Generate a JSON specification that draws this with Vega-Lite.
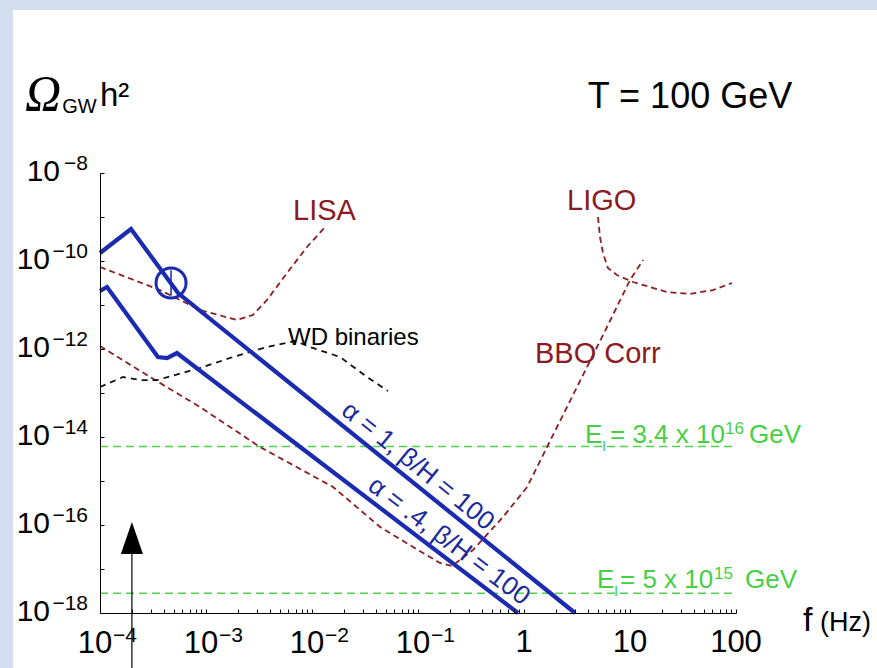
{
  "$schema": "https://vega.github.io/schema/vega-lite/v6.json",
  "width": 636,
  "height": 440,
  "autosize": {"type": "none"},
  "padding": {"left": 100, "top": 173, "right": 141, "bottom": 55},
  "background": "#d3dff0",
  "config": {"view": {"stroke": null}, "font": "Liberation Sans"},
  "datasets": {
    "curves": [
      {"s": "alpha1", "f": 0.0001, "o": 1.52e-10},
      {"s": "alpha1", "f": 0.000196, "o": 5.33e-10},
      {"s": "alpha1", "f": 0.000545, "o": 1.87e-11},
      {"s": "alpha1", "f": 3.03, "o": 1e-18},
      {"s": "alpha04", "f": 0.0001, "o": 2.08e-11},
      {"s": "alpha04", "f": 0.0001164, "o": 2.56e-11},
      {"s": "alpha04", "f": 0.000352, "o": 6.58e-13},
      {"s": "alpha04", "f": 0.000429, "o": 6.24e-13},
      {"s": "alpha04", "f": 0.000532, "o": 8.11e-13},
      {"s": "alpha04", "f": 0.877, "o": 1e-18},
      {"s": "LISA", "f": 0.0001, "o": 7.31e-11},
      {"s": "LISA", "f": 0.000368, "o": 2.19e-11},
      {"s": "LISA", "f": 0.000877, "o": 7.69e-12},
      {"s": "LISA", "f": 0.00196, "o": 4.56e-12},
      {"s": "LISA", "f": 0.00277, "o": 5.93e-12},
      {"s": "LISA", "f": 0.00376, "o": 1.3e-11},
      {"s": "LISA", "f": 0.00581, "o": 5.33e-11},
      {"s": "LISA", "f": 0.00897, "o": 2.08e-10},
      {"s": "LISA", "f": 0.0133, "o": 5.93e-10},
      {"s": "BBO", "f": 0.0001, "o": 1.17e-12},
      {"s": "BBO", "f": 0.00033, "o": 1.97e-13},
      {"s": "BBO", "f": 0.000877, "o": 4.81e-14},
      {"s": "BBO", "f": 0.00323, "o": 5.93e-15},
      {"s": "BBO", "f": 0.0158, "o": 7.31e-16},
      {"s": "BBO", "f": 0.0439, "o": 9.02e-17},
      {"s": "BBO", "f": 0.0897, "o": 3.16e-17},
      {"s": "BBO", "f": 0.161, "o": 1.37e-17},
      {"s": "BBO", "f": 0.209, "o": 1.17e-17},
      {"s": "BBO", "f": 0.33, "o": 2.7e-17},
      {"s": "BBO", "f": 0.634, "o": 1.52e-16},
      {"s": "BBO", "f": 1.07, "o": 7.31e-16},
      {"s": "BBO", "f": 1.65, "o": 5.93e-15},
      {"s": "BBO", "f": 3.93, "o": 3.9e-13},
      {"s": "BBO", "f": 6.07, "o": 3.16e-12},
      {"s": "BBO", "f": 10.0, "o": 3.7e-11},
      {"s": "BBO", "f": 13.3, "o": 1.05e-10},
      {"s": "LIGO", "f": 4.99, "o": 1e-9},
      {"s": "LIGO", "f": 5.21, "o": 3.51e-10},
      {"s": "LIGO", "f": 5.56, "o": 1.52e-10},
      {"s": "LIGO", "f": 6.19, "o": 6.93e-11},
      {"s": "LIGO", "f": 7.53, "o": 4.81e-11},
      {"s": "LIGO", "f": 10.67, "o": 3.33e-11},
      {"s": "LIGO", "f": 22.3, "o": 1.97e-11},
      {"s": "LIGO", "f": 36.8, "o": 1.78e-11},
      {"s": "LIGO", "f": 60.7, "o": 2.19e-11},
      {"s": "LIGO", "f": 91.6, "o": 3.16e-11},
      {"s": "WD", "f": 0.0001, "o": 1.37e-13},
      {"s": "WD", "f": 0.000165, "o": 2.31e-13},
      {"s": "WD", "f": 0.000238, "o": 1.97e-13},
      {"s": "WD", "f": 0.000345, "o": 1.97e-13},
      {"s": "WD", "f": 0.000877, "o": 3.7e-13},
      {"s": "WD", "f": 0.0018, "o": 6.58e-13},
      {"s": "WD", "f": 0.00376, "o": 1.11e-12},
      {"s": "WD", "f": 0.00692, "o": 1.52e-12},
      {"s": "WD", "f": 0.00957, "o": 1.11e-12},
      {"s": "WD", "f": 0.0184, "o": 6.58e-13},
      {"s": "WD", "f": 0.033, "o": 2.31e-13},
      {"s": "WD", "f": 0.0521, "o": 1.11e-13},
      {"s": "EI1", "f": 0.0001, "o": 6.08e-15},
      {"s": "EI1", "f": 97.9, "o": 6.08e-15},
      {"s": "EI2", "f": 0.0001, "o": 2.81e-18},
      {"s": "EI2", "f": 97.9, "o": 2.81e-18}
    ],
    "circle": [{"f": 0.000468, "o": 3.16e-11}],
    "frame": [{"f": 1.51e-5, "f2": 10000, "o": 5.07e-5, "o2": 1e-21}],
    "arrow": [{"f": 0.0002, "o": 1e-20, "o2": 2.5e-17, "tip": 5.07e-17}],
    "ticklabels": [
      {"k": "xb", "t": "10", "f": 0.0001, "o": 1e-18},
      {"k": "xe", "t": "−4", "f": 0.0001, "o": 1e-18},
      {"k": "xb", "t": "10", "f": 0.001, "o": 1e-18},
      {"k": "xe", "t": "−3", "f": 0.001, "o": 1e-18},
      {"k": "xb", "t": "10", "f": 0.01, "o": 1e-18},
      {"k": "xe", "t": "−2", "f": 0.01, "o": 1e-18},
      {"k": "xb", "t": "10", "f": 0.1, "o": 1e-18},
      {"k": "xe", "t": "−1", "f": 0.1, "o": 1e-18},
      {"k": "xp", "t": "1", "f": 1, "o": 1e-18},
      {"k": "xp", "t": "10", "f": 10, "o": 1e-18},
      {"k": "xp", "t": "100", "f": 100, "o": 1e-18},
      {"k": "yb1", "t": "10", "f": 0.0001, "o": 1e-8},
      {"k": "ye", "t": "−8", "f": 0.0001, "o": 1e-8},
      {"k": "yb2", "t": "10", "f": 0.0001, "o": 1e-10},
      {"k": "ye", "t": "−10", "f": 0.0001, "o": 1e-10},
      {"k": "yb2", "t": "10", "f": 0.0001, "o": 1e-12},
      {"k": "ye", "t": "−12", "f": 0.0001, "o": 1e-12},
      {"k": "yb2", "t": "10", "f": 0.0001, "o": 1e-14},
      {"k": "ye", "t": "−14", "f": 0.0001, "o": 1e-14},
      {"k": "yb2", "t": "10", "f": 0.0001, "o": 1e-16},
      {"k": "ye", "t": "−16", "f": 0.0001, "o": 1e-16},
      {"k": "yb2", "t": "10", "f": 0.0001, "o": 1e-18},
      {"k": "ye", "t": "−18", "f": 0.0001, "o": 1e-18}
    ],
    "labels": [
      {"g": "omega", "t": "Ω", "f": 1.96e-5, "o": 2.7e-7},
      {"g": "gw", "t": "GW", "f": 4.4e-5, "o": 2.3e-7},
      {"g": "h2", "t": "h²", "f": 0.0001, "o": 3.33e-7},
      {"g": "T", "t": "T = 100 GeV", "f": 36.8, "o": 3.0e-7},
      {"g": "red", "t": "LISA", "f": 0.00662, "o": 8.55e-10},
      {"g": "red", "t": "LIGO", "f": 2.55, "o": 1.44e-9},
      {"g": "red", "t": "BBO Corr", "f": 1.27, "o": 4.81e-13},
      {"g": "wd", "t": "WD binaries", "f": 0.00594, "o": 1.23e-12},
      {"g": "alpha1", "t": "α = 1, β/H = 100", "f": 0.1, "o": 2.19e-15},
      {"g": "alpha2", "t": "α = .4, β/H = 100", "f": 0.196, "o": 4.33e-17},
      {"g": "emain", "t": "E", "f": 3.763, "o": 7.31e-15},
      {"g": "emain", "t": "= 3.4 x 10", "f": 6.476, "o": 7.31e-15},
      {"g": "emain", "t": "GeV", "f": 132.7, "o": 7.31e-15},
      {"g": "emain", "t": "E", "f": 4.884, "o": 3.7e-18},
      {"g": "emain", "t": "= 5 x 10", "f": 8.05, "o": 3.7e-18},
      {"g": "emain", "t": "GeV", "f": 121.6, "o": 3.7e-18},
      {"g": "esub", "t": "I", "f": 5.442, "o": 4.81e-15},
      {"g": "esub", "t": "I", "f": 7.065, "o": 2.43e-18},
      {"g": "esup", "t": "16", "f": 78.7, "o": 1.17e-14},
      {"g": "esup", "t": "15", "f": 62.0, "o": 5.93e-18},
      {"g": "fz", "t": "f", "f": 428.5, "o": 3.9e-19},
      {"g": "hz", "t": "(Hz)", "f": 619.4, "o": 3.9e-19}
    ]
  },
  "encoding": {
    "x": {
      "field": "f", "type": "quantitative",
      "scale": {"type": "log", "domain": [0.0001, 100], "nice": false},
      "axis": {
        "title": null, "grid": false, "zindex": 1, "labels": false,
        "values": [0.0001,0.0002,0.0003,0.0004,0.0005,0.0006,0.0007,0.0008,0.0009,0.001,0.002,0.003,0.004,0.005,0.006,0.007,0.008,0.009,0.01,0.02,0.03,0.04,0.05,0.06,0.07,0.08,0.09,0.1,0.2,0.3,0.4,0.5,0.6,0.7,0.8,0.9,1,2,3,4,5,6,7,8,9,10,20,30,40,50,60,70,80,90,100],
        "tickSize": -4, "tickColor": "black", "domainColor": "black", "domainWidth": 1
      }
    },
    "y": {
      "field": "o", "type": "quantitative",
      "scale": {"type": "log", "domain": [1e-18, 1e-8], "nice": false},
      "axis": {
        "title": null, "grid": false, "zindex": 1, "labels": false,
        "values": [1e-18,1e-17,1e-16,1e-15,1e-14,1e-13,1e-12,1e-11,1e-10,1e-9,1e-8],
        "tickSize": -4, "tickColor": "black", "domainColor": "black", "domainWidth": 1
      }
    }
  },
  "layer": [
    {
      "data": {"name": "frame"},
      "mark": {"type": "rect", "color": "white", "clip": false},
      "encoding": {"x2": {"field": "f2"}, "y2": {"field": "o2"}}
    },
    {
      "data": {"name": "curves"},
      "transform": [{"filter": "datum.s === 'EI1' || datum.s === 'EI2'"}],
      "mark": {"type": "line", "color": "#4fd34f", "strokeWidth": 1.6, "strokeDash": [8, 5]},
      "encoding": {"detail": {"field": "s"}}
    },
    {
      "data": {"name": "curves"},
      "transform": [{"filter": "datum.s === 'LISA' || datum.s === 'BBO' || datum.s === 'LIGO'"}],
      "mark": {"type": "line", "color": "#8b1e22", "strokeWidth": 1.8, "strokeDash": [6, 4]},
      "encoding": {"detail": {"field": "s"}}
    },
    {
      "data": {"name": "curves"},
      "transform": [{"filter": "datum.s === 'WD'"}],
      "mark": {"type": "line", "color": "#111111", "strokeWidth": 1.8, "strokeDash": [6, 5]},
      "encoding": {}
    },
    {
      "data": {"name": "curves"},
      "transform": [{"filter": "datum.s === 'alpha1' || datum.s === 'alpha04'"}],
      "mark": {"type": "line", "color": "#1b2bb0", "strokeWidth": 4.2},
      "encoding": {"detail": {"field": "s"}}
    },
    {
      "data": {"name": "circle"},
      "mark": {"type": "point", "shape": "circle", "filled": false, "size": 900, "strokeWidth": 3, "color": "#1b2bb0", "opacity": 1}
    },
    {
      "data": {"name": "circle"},
      "mark": {"type": "point", "shape": "M0,-0.85L0,0.85", "filled": false, "size": 900, "strokeWidth": 1.5, "color": "#1b2bb0", "opacity": 1}
    },
    {
      "data": {"name": "arrow"},
      "mark": {"type": "rule", "color": "black", "strokeWidth": 1.2, "clip": false},
      "encoding": {"y2": {"field": "o2"}}
    },
    {
      "data": {"name": "arrow"},
      "mark": {"type": "point", "shape": "M0,-1L0.69,1L-0.69,1Z", "filled": true, "size": 1024, "color": "black", "opacity": 1, "strokeWidth": 0, "clip": false},
      "encoding": {"y": {"field": "tip"}}
    },
    {
      "data": {"name": "ticklabels"},
      "transform": [{"filter": "datum.k === 'xb'"}],
      "mark": {"type": "text", "align": "center", "baseline": "alphabetic", "fontSize": 31, "color": "black", "dx": -5, "dy": 40, "clip": false},
      "encoding": {"text": {"field": "t"}}
    },
    {
      "data": {"name": "ticklabels"},
      "transform": [{"filter": "datum.k === 'xp'"}],
      "mark": {"type": "text", "align": "center", "baseline": "alphabetic", "fontSize": 31, "color": "black", "dy": 39, "clip": false},
      "encoding": {"text": {"field": "t"}}
    },
    {
      "data": {"name": "ticklabels"},
      "transform": [{"filter": "datum.k === 'xe'"}],
      "mark": {"type": "text", "align": "left", "baseline": "alphabetic", "fontSize": 21, "color": "black", "dx": 13, "dy": 29, "clip": false},
      "encoding": {"text": {"field": "t"}}
    },
    {
      "data": {"name": "ticklabels"},
      "transform": [{"filter": "datum.k === 'yb1'"}],
      "mark": {"type": "text", "align": "right", "baseline": "alphabetic", "fontSize": 30, "color": "black", "dx": -40, "dy": 8, "clip": false},
      "encoding": {"text": {"field": "t"}}
    },
    {
      "data": {"name": "ticklabels"},
      "transform": [{"filter": "datum.k === 'yb2'"}],
      "mark": {"type": "text", "align": "right", "baseline": "alphabetic", "fontSize": 30, "color": "black", "dx": -50, "dy": 8, "clip": false},
      "encoding": {"text": {"field": "t"}}
    },
    {
      "data": {"name": "ticklabels"},
      "transform": [{"filter": "datum.k === 'ye'"}],
      "mark": {"type": "text", "align": "right", "baseline": "alphabetic", "fontSize": 21, "color": "black", "dx": -12, "dy": -3, "clip": false},
      "encoding": {"text": {"field": "t"}}
    },
    {
      "data": {"name": "labels"},
      "transform": [{"filter": "datum.g === 'omega'"}],
      "mark": {"type": "text", "align": "left", "baseline": "alphabetic", "font": "Liberation Serif", "fontStyle": "italic", "fontSize": 50, "color": "black", "clip": false},
      "encoding": {"text": {"field": "t"}}
    },
    {
      "data": {"name": "labels"},
      "transform": [{"filter": "datum.g === 'gw'"}],
      "mark": {"type": "text", "align": "left", "baseline": "alphabetic", "fontSize": 20, "color": "black", "clip": false},
      "encoding": {"text": {"field": "t"}}
    },
    {
      "data": {"name": "labels"},
      "transform": [{"filter": "datum.g === 'h2'"}],
      "mark": {"type": "text", "align": "left", "baseline": "alphabetic", "fontSize": 33, "color": "black", "clip": false},
      "encoding": {"text": {"field": "t"}}
    },
    {
      "data": {"name": "labels"},
      "transform": [{"filter": "datum.g === 'T'"}],
      "mark": {"type": "text", "align": "center", "baseline": "alphabetic", "fontSize": 36, "color": "black", "clip": false},
      "encoding": {"text": {"field": "t"}}
    },
    {
      "data": {"name": "labels"},
      "transform": [{"filter": "datum.g === 'red'"}],
      "mark": {"type": "text", "align": "left", "baseline": "alphabetic", "fontSize": 29, "color": "#8b1a22", "clip": false},
      "encoding": {"text": {"field": "t"}}
    },
    {
      "data": {"name": "labels"},
      "transform": [{"filter": "datum.g === 'wd'"}],
      "mark": {"type": "text", "align": "left", "baseline": "alphabetic", "fontSize": 24, "color": "black", "clip": false},
      "encoding": {"text": {"field": "t"}}
    },
    {
      "data": {"name": "labels"},
      "transform": [{"filter": "datum.g === 'alpha1'"}],
      "mark": {"type": "text", "align": "center", "baseline": "middle", "angle": 39, "fontSize": 26, "color": "#1a2a9c", "clip": false},
      "encoding": {"text": {"field": "t"}}
    },
    {
      "data": {"name": "labels"},
      "transform": [{"filter": "datum.g === 'alpha2'"}],
      "mark": {"type": "text", "align": "center", "baseline": "middle", "angle": 37, "fontSize": 26, "color": "#1a2a9c", "clip": false},
      "encoding": {"text": {"field": "t"}}
    },
    {
      "data": {"name": "labels"},
      "transform": [{"filter": "datum.g === 'emain'"}],
      "mark": {"type": "text", "align": "left", "baseline": "alphabetic", "fontSize": 26, "color": "#46cf46", "clip": false},
      "encoding": {"text": {"field": "t"}}
    },
    {
      "data": {"name": "labels"},
      "transform": [{"filter": "datum.g === 'esub'"}],
      "mark": {"type": "text", "align": "left", "baseline": "alphabetic", "fontSize": 15, "color": "#46cf46", "clip": false},
      "encoding": {"text": {"field": "t"}}
    },
    {
      "data": {"name": "labels"},
      "transform": [{"filter": "datum.g === 'esup'"}],
      "mark": {"type": "text", "align": "left", "baseline": "alphabetic", "fontSize": 17, "color": "#46cf46", "clip": false},
      "encoding": {"text": {"field": "t"}}
    },
    {
      "data": {"name": "labels"},
      "transform": [{"filter": "datum.g === 'fz'"}],
      "mark": {"type": "text", "align": "left", "baseline": "alphabetic", "fontSize": 34, "color": "black", "clip": false},
      "encoding": {"text": {"field": "t"}}
    },
    {
      "data": {"name": "labels"},
      "transform": [{"filter": "datum.g === 'hz'"}],
      "mark": {"type": "text", "align": "left", "baseline": "alphabetic", "fontSize": 27, "color": "black", "clip": false},
      "encoding": {"text": {"field": "t"}}
    }
  ]
}
